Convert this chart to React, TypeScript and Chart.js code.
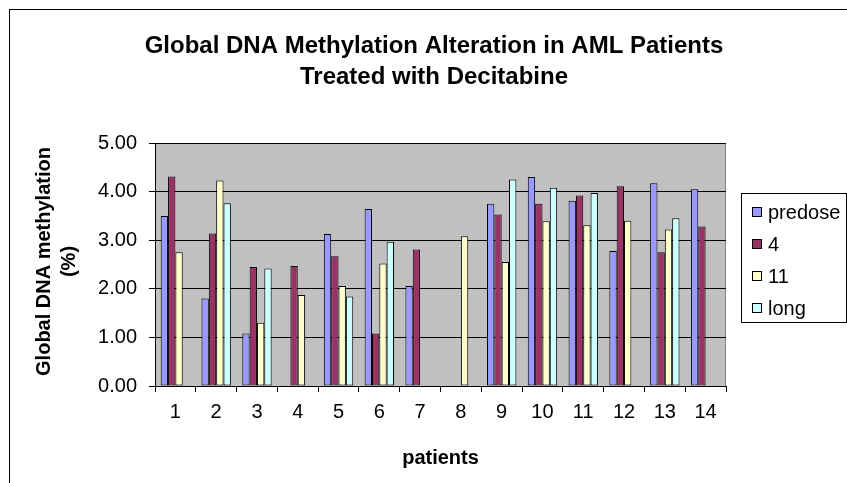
import { useEffect, useRef } from 'react';
import { Chart, registerables } from 'chart.js';

Chart.register(...registerables);

const categories = ['1', '2', '3', '4', '5', '6', '7', '8', '9', '10', '11', '12', '13', '14'];
const predose = [3.5, 1.8, 1.08, null, 3.13, 3.64, 2.06, null, 3.75, 4.3, 3.81, 2.78, 4.17, 4.05];
const dose4 = [4.31, 3.14, 2.45, 2.47, 2.67, 1.08, 2.81, null, 3.53, 3.75, 3.92, 4.11, 2.75, 3.28];
const dose11 = [2.75, 4.23, 1.3, 1.87, 2.06, 2.52, null, 3.08, 2.55, 3.39, 3.31, 3.4, 3.22, null];
const longTerm = [null, 3.76, 2.42, null, 1.84, 2.97, null, null, 4.25, 4.08, 3.97, null, 3.45, null];
const seriesLabels = ['predose', '4', '11', 'long'];
const seriesColors = ['#9999FF', '#993366', '#FFFFCC', '#CCFFFF'];
const titleLines = ['Global DNA Methylation Alteration in AML Patients', 'Treated with Decitabine'];
const yTitleLines = ['Global DNA methylation', '(%)'];
const xTitle = 'patients';

const FONT = '"Liberation Sans", Arial, sans-serif';

const decor = {
  id: 'decor',
  beforeDraw(chart: any) {
    const { ctx, chartArea: a, width, height } = chart;
    ctx.save();
    ctx.fillStyle = '#ffffff';
    ctx.fillRect(0, 0, width, height);
    ctx.fillStyle = '#C0C0C0';
    ctx.fillRect(a.left, a.top, a.right - a.left, a.bottom - a.top);
    ctx.strokeStyle = '#808080';
    ctx.lineWidth = 1;
    ctx.strokeRect(a.left + 0.5, a.top + 0.5, a.right - a.left - 1, a.bottom - a.top);
    ctx.restore();
  },
  afterDraw(chart: any) {
    const { ctx, chartArea: a } = chart;
    ctx.save();
    // outer frame
    ctx.strokeStyle = '#000';
    ctx.lineWidth = 1;
    ctx.strokeRect(9.5, 9.5, 900, 600);
    // title
    ctx.fillStyle = '#000';
    ctx.font = `bold 24px ${FONT}`;
    ctx.textAlign = 'center';
    ctx.textBaseline = 'alphabetic';
    ctx.fillText(titleLines[0], 434, 53);
    ctx.fillText(titleLines[1], 434, 84);
    // y title
    ctx.font = `bold 20px ${FONT}`;
    const cy = (a.top + a.bottom) / 2 - 3;
    [50, 75].forEach((x, i) => {
      ctx.save();
      ctx.translate(x, cy);
      ctx.rotate(-Math.PI / 2);
      ctx.fillText(yTitleLines[i], 0, 0);
      ctx.restore();
    });
    // x title
    ctx.fillText(xTitle, (a.left + a.right) / 2, 464);
    // legend
    ctx.fillStyle = '#fff';
    ctx.fillRect(741, 193, 106, 129);
    ctx.strokeStyle = '#000';
    ctx.strokeRect(741.5, 193.5, 105, 129);
    ctx.font = `20px ${FONT}`;
    ctx.textAlign = 'left';
    ctx.textBaseline = 'middle';
    chart.data.datasets.forEach((ds: any, i: number) => {
      const y = 212 + 32 * i;
      ctx.fillStyle = ds.backgroundColor;
      ctx.fillRect(752, y - 5, 10, 10);
      ctx.strokeStyle = '#000';
      ctx.strokeRect(752.5, y - 4.5, 9, 9);
      ctx.fillStyle = '#000';
      ctx.fillText(ds.label, 768, y + 1);
    });
    ctx.restore();
  },
};

export default function App() {
  const ref = useRef<HTMLCanvasElement>(null);
  useEffect(() => {
    document.body.style.margin = '0';
    const values = [predose, dose4, dose11, longTerm];
    const chart = new Chart(ref.current!, {
      type: 'bar',
      data: {
        labels: categories,
        datasets: seriesLabels.map((label, i) => ({
          label,
          data: values[i],
          backgroundColor: seriesColors[i],
          borderColor: '#000',
          borderWidth: 1,
          borderSkipped: false,
          categoryPercentage: 0.72,
          barPercentage: 1,
        })),
      },
      options: {
        animation: false,
        responsive: false,
        layout: { padding: { left: 0, top: 143, right: 121, bottom: 0 } },
        plugins: { legend: { display: false }, title: { display: false }, tooltip: { enabled: false } },
        scales: {
          x: {
            offset: true,
            grid: { display: true, drawOnChartArea: false, drawTicks: true, tickLength: 6, color: '#000', offset: true },
            border: { display: true, color: '#000', width: 1 },
            ticks: { color: '#000', font: { family: FONT, size: 20 }, padding: 8, maxRotation: 0 },
            afterFit: (s: any) => { s.height = 97; },
          },
          y: {
            min: 0,
            max: 5,
            grid: { color: '#000', lineWidth: 1, drawTicks: true, tickLength: 6 },
            border: { display: true, color: '#000', width: 1 },
            ticks: {
              stepSize: 1,
              color: '#000',
              font: { family: FONT, size: 20 },
              padding: 12,
              callback: (v: any) => Number(v).toFixed(2),
            },
            afterFit: (s: any) => { s.width = 155; },
          },
        },
      },
      plugins: [decor],
    });
    return () => chart.destroy();
  }, []);
  return <canvas ref={ref} width={847} height={483} style={{ display: 'block' }} />;
}
